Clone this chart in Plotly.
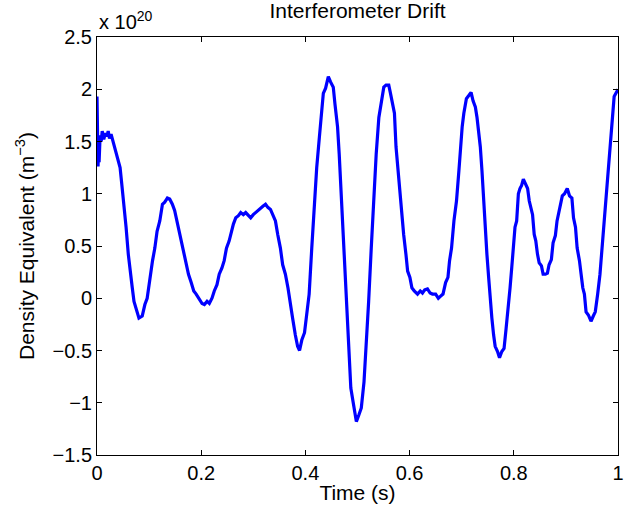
import plotly.graph_objects as go

# Time (s)
time_s = [
    0.000, 0.001, 0.002, 0.003, 0.004, 0.006, 0.008, 0.010, 0.013, 0.016,
    0.019, 0.0215, 0.024, 0.027, 0.0316, 0.038, 0.0443, 0.0476, 0.052, 0.0558,
    0.0601, 0.0634, 0.0677, 0.071, 0.0761, 0.0805, 0.0868, 0.0919, 0.0963, 0.1014,
    0.1066, 0.111, 0.1153, 0.1205, 0.1256, 0.130, 0.1351, 0.1395, 0.1446, 0.149,
    0.1534, 0.1585, 0.1637, 0.168, 0.1713, 0.1756, 0.1808, 0.1857, 0.1903, 0.1966,
    0.2017, 0.2061, 0.2112, 0.2156, 0.2207, 0.2251, 0.2303, 0.2346, 0.2398, 0.2441,
    0.2485, 0.2537, 0.258, 0.2618, 0.2664, 0.2714, 0.2759, 0.2809, 0.2854, 0.2904,
    0.295, 0.2999, 0.3045, 0.3094, 0.314, 0.3184, 0.3235, 0.3279, 0.333, 0.3374,
    0.3425, 0.3469, 0.352, 0.3564, 0.3616, 0.3665, 0.3711, 0.3754, 0.3806,
    0.385, 0.3888, 0.3931, 0.3983, 0.4027, 0.4072, 0.4122, 0.4173, 0.4217, 0.4268,
    0.4312, 0.4344, 0.4388, 0.444, 0.4483, 0.4535, 0.4567, 0.4617, 0.4649, 0.4693,
    0.4738, 0.4776, 0.4807, 0.4839, 0.4872, 0.4915, 0.4948, 0.4978, 0.5024, 0.5073,
    0.5125, 0.5168, 0.5214, 0.5264, 0.5315, 0.5359, 0.541, 0.5454, 0.5505, 0.5549,
    0.560, 0.5633, 0.5676, 0.5709, 0.5739, 0.5785, 0.5834, 0.5886, 0.593, 0.5962,
    0.6006, 0.6044, 0.6089, 0.6152, 0.6204, 0.6247, 0.6291, 0.6343, 0.6394, 0.6438,
    0.650, 0.6552, 0.6596, 0.6641, 0.6691, 0.6736, 0.6767, 0.6805, 0.6851, 0.690,
    0.6946, 0.6976, 0.7009, 0.7041, 0.709, 0.7136, 0.718, 0.7218, 0.7262, 0.7294,
    0.7326, 0.7357, 0.7389, 0.7421, 0.7452, 0.7484, 0.7517, 0.7547, 0.7579, 0.7612,
    0.7642, 0.7688, 0.7726, 0.777, 0.7813, 0.7852, 0.7897, 0.7928, 0.796, 0.7992,
    0.8023, 0.8055, 0.8088, 0.8118, 0.815, 0.8183, 0.8227, 0.8265, 0.8297, 0.8322,
    0.836, 0.8392, 0.8422, 0.8455, 0.8487, 0.8531, 0.8563, 0.8607, 0.8645, 0.8677,
    0.8721, 0.8754, 0.8798, 0.883, 0.886, 0.8893, 0.8931, 0.8974, 0.9026, 0.9069,
    0.9115, 0.9146, 0.9184, 0.9216, 0.926, 0.9292, 0.9324, 0.9355, 0.9387, 0.9431,
    0.9482, 0.9526, 0.9564, 0.961, 0.9654, 0.9705, 0.9749, 0.9787, 0.9831, 0.9863,
    0.9895, 0.9926, 0.997, 1.000,
]

# Density equivalent, in units of 1e20 m^-3
density_e20 = [
    1.93, 1.60, 1.26, 1.45, 1.30, 1.56, 1.50, 1.60, 1.52, 1.58,
    1.55, 1.60, 1.53, 1.57, 1.48, 1.35, 1.25, 1.09, 0.90, 0.68,
    0.42, 0.26, 0.10, -0.03, -0.11, -0.19, -0.17, -0.06, 0.00, 0.20,
    0.36, 0.48, 0.64, 0.74, 0.90, 0.92, 0.96, 0.95, 0.90, 0.84,
    0.74, 0.64, 0.52, 0.42, 0.32, 0.23, 0.15, 0.07, 0.04, -0.01,
    -0.05, -0.06, -0.03, -0.05, 0.00, 0.07, 0.13, 0.23, 0.29, 0.36,
    0.48, 0.55, 0.64, 0.71, 0.77, 0.79, 0.82, 0.80, 0.82, 0.79,
    0.77, 0.80, 0.82, 0.84, 0.87, 0.88, 0.90, 0.87, 0.85, 0.80,
    0.74, 0.61, 0.48, 0.32, 0.23, 0.10, -0.03, -0.19, -0.35,
    -0.46, -0.50, -0.40, -0.33, -0.13, 0.04, 0.48, 0.93, 1.25, 1.54,
    1.80, 1.96, 2.01, 2.12, 2.07, 2.02, 1.86, 1.64, 1.38, 0.93,
    0.42, -0.03, -0.35, -0.61, -0.86, -0.99, -1.09, -1.18, -1.12, -1.05,
    -0.80, -0.45, -0.03, 0.48, 1.00, 1.38, 1.73, 1.89, 2.02, 2.04,
    2.04, 1.96, 1.86, 1.77, 1.45, 1.16, 0.90, 0.61, 0.42, 0.26,
    0.20, 0.10, 0.07, 0.04, 0.07, 0.05, 0.08, 0.09, 0.05, 0.04,
    0.04, 0.00, 0.02, 0.04, 0.15, 0.20, 0.36, 0.48, 0.74, 0.93,
    1.22, 1.45, 1.64, 1.77, 1.91, 1.94, 1.97, 1.89, 1.83, 1.73,
    1.61, 1.45, 1.22, 0.93, 0.68, 0.42, 0.20, -0.03, -0.19, -0.35,
    -0.46, -0.51, -0.57, -0.51, -0.48, -0.29, -0.09, 0.10, 0.29, 0.48,
    0.68, 0.74, 1.00, 1.05, 1.08, 1.14, 1.08, 1.05, 0.93, 0.87,
    0.80, 0.61, 0.55, 0.42, 0.34, 0.31, 0.23, 0.23, 0.24, 0.32,
    0.37, 0.53, 0.60, 0.74, 0.82, 0.87, 0.98, 1.00, 1.05, 0.98,
    0.96, 0.77, 0.68, 0.48, 0.36, 0.23, 0.10, 0.04, -0.13, -0.16,
    -0.22, -0.17, -0.13, 0.04, 0.23, 0.55, 0.84, 1.09, 1.38, 1.61,
    1.73, 1.93, 1.97, 2.00,
]

x_ticks = [0, 0.2, 0.4, 0.6, 0.8, 1]
x_ticktext = ["0", "0.2", "0.4", "0.6", "0.8", "1"]
y_ticks = [-1.5, -1, -0.5, 0, 0.5, 1, 1.5, 2, 2.5]
y_ticktext = ["\u22121.5", "\u22121", "\u22120.5", "0", "0.5", "1", "1.5", "2", "2.5"]

FONT = "Liberation Sans, Arial, Helvetica, sans-serif"

fig = go.Figure()
fig.add_trace(go.Scatter(
    x=time_s, y=density_e20, mode="lines",
    line=dict(color="#0000FF", width=3.2),
    showlegend=False, hoverinfo="skip",
))

axis_common = dict(
    showline=True, linecolor="black", linewidth=1, mirror="ticks",
    ticks="inside", ticklen=5, tickwidth=1, tickcolor="black",
    showgrid=False, zeroline=False, automargin=False,
    ticklabeloverflow="allow",
    tickfont=dict(family=FONT, size=20, color="black"),
)

fig.update_xaxes(
    range=[0, 1], tickvals=x_ticks, ticktext=x_ticktext,
    title=dict(text="Time (s)", font=dict(family=FONT, size=21, color="black"), standoff=2),
    **axis_common,
)
fig.update_yaxes(
    range=[-1.5, 2.5], tickvals=y_ticks, ticktext=y_ticktext,
    title=dict(text="Density Equivalent (m<sup>\u22123</sup>)",
               font=dict(family=FONT, size=21, color="black"), standoff=12),
    **axis_common,
)

fig.update_layout(
    width=624, height=512,
    margin=dict(l=97, r=6, t=37, b=57, pad=0),
    paper_bgcolor="white", plot_bgcolor="white",
    title=dict(text="Interferometer Drift", x=0.5, xref="paper",
               y=1 - 11 / 512, yref="container", yanchor="middle", xanchor="center",
               font=dict(family=FONT, size=21, color="black")),
    annotations=[dict(
        text="x 10<sup>20</sup>", xref="paper", yref="paper", x=0, y=1,
        xanchor="left", yanchor="bottom", showarrow=False, yshift=2,
        font=dict(family=FONT, size=20, color="black"),
    )],
)

fig.write_html("out.html")
